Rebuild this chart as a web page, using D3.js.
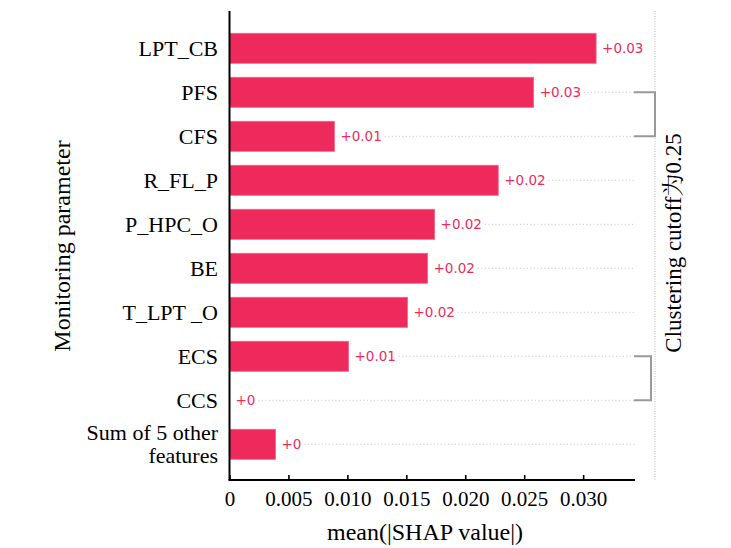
<!DOCTYPE html>
<html>
<head>
<meta charset="utf-8">
<script src="https://cdn.jsdelivr.net/npm/d3@7"></script>
<style>
  html, body { margin: 0; padding: 0; background: #fff; }
  svg { display: block; }
</style>
</head>
<body>
<div id="chart"></div>
<script>
// ---- data ----
const features = ["LPT_CB", "PFS", "CFS", "R_FL_P", "P_HPC_O", "BE", "T_LPT _O", "ECS", "CCS", "Sum of 5 other|features"];
const values = [0.0311, 0.0258, 0.0089, 0.0228, 0.0174, 0.0168, 0.0151, 0.0101, 0.0000, 0.0039];
const valueLabels = ["+0.03", "+0.03", "+0.01", "+0.02", "+0.02", "+0.02", "+0.02", "+0.01", "+0", "+0"];
const xTicks = [0, 0.005, 0.010, 0.015, 0.020, 0.025, 0.030];
const xTickLabels = ["0", "0.005", "0.010", "0.015", "0.020", "0.025", "0.030"];
const clusterPairs = [[1, 2], [7, 8]];
const clusterDistances = [0.25, 0.20];
const clusterCutoff = 0.25;
const xTitle = "mean(|SHAP value|)";
const yTitle = "Monitoring parameter";
const rightTitle = "Clustering cutoff为0.25";

// ---- layout ----
const W = 731, H = 548;
const plotLeft = 229.5, plotRight = 635, plotTop = 11, plotBottom = 480;
const barColor = "#ee2a5d";
const serif = "'Liberation Serif', 'Noto Serif CJK SC', 'Noto Sans CJK SC', serif";
const sans = "'DejaVu Sans', sans-serif";

const svg = d3.select("#chart").append("svg").attr("width", W).attr("height", H);

const x = d3.scaleLinear().domain([0, 0.0344]).range([plotLeft, plotRight]);
const y = d3.scaleBand().domain(d3.range(features.length))
  .range([26.3, 466.3]).paddingInner(0.318).paddingOuter(0.159);
const xc = d3.scaleLinear().domain([0, clusterCutoff]).range([plotRight, 655]);

// dotted row guide lines (drawn after labels measured)
const guides = svg.append("g");

// bars
svg.append("g").selectAll("rect").data(values).join("rect")
  .attr("x", x(0))
  .attr("y", (d, i) => y(i))
  .attr("width", d => Math.max(0, x(d) - x(0)))
  .attr("height", y.bandwidth())
  .attr("fill", barColor)
  .attr("stroke", d => d > 0 ? "#f4648a" : "none")
  .attr("stroke-width", 0.8);

// value labels
const vl = svg.append("g").selectAll("text").data(values).join("text")
  .attr("x", d => x(d) + 6)
  .attr("y", (d, i) => y(i) + y.bandwidth() / 2)
  .attr("dy", "0.36em")
  .attr("font-family", sans)
  .attr("font-size", 13.5)
  .attr("fill", barColor)
  .text((d, i) => valueLabels[i]);

vl.each(function(d, i) {
  const end = x(d) + 6 + this.getComputedTextLength() + 3;
  if (end < plotRight) {
    guides.append("line")
      .attr("x1", end).attr("x2", plotRight)
      .attr("y1", y(i) + y.bandwidth() / 2).attr("y2", y(i) + y.bandwidth() / 2)
      .attr("stroke", "#c4c4c4").attr("stroke-width", 1)
      .attr("stroke-dasharray", "1,2.5");
  }
});

// cutoff dotted vertical line
svg.append("line")
  .attr("x1", xc(clusterCutoff)).attr("x2", xc(clusterCutoff))
  .attr("y1", plotTop).attr("y2", plotBottom)
  .attr("stroke", "#c4c4c4").attr("stroke-width", 1.2)
  .attr("stroke-dasharray", "1,1.5");

// cluster brackets
clusterPairs.forEach((p, k) => {
  const y1 = y(p[0]) + y.bandwidth() / 2, y2 = y(p[1]) + y.bandwidth() / 2;
  const xe = xc(clusterDistances[k]);
  svg.append("path")
    .attr("d", `M${plotRight - 1},${y1}H${xe}V${y2}H${plotRight - 1}`)
    .attr("fill", "none").attr("stroke", "#999").attr("stroke-width", 2);
});

// x axis
const xAxis = d3.axisBottom(x).tickValues(xTicks)
  .tickFormat((d, i) => xTickLabels[i])
  .tickSizeInner(-5).tickSizeOuter(0);
const gx = svg.append("g").attr("transform", `translate(0,${plotBottom})`).call(xAxis);
gx.select(".domain").attr("stroke", "#000").attr("stroke-width", 2)
  .attr("d", `M${plotLeft - 1},0H${plotRight}`);
gx.selectAll(".tick line").attr("stroke", "#000").attr("stroke-width", 1.6);
gx.selectAll(".tick text").attr("y", 26).attr("dy", 0)
  .attr("font-family", serif).attr("font-size", 21).attr("fill", "#000");

// y axis line
svg.append("line")
  .attr("x1", plotLeft).attr("x2", plotLeft)
  .attr("y1", plotTop).attr("y2", plotBottom)
  .attr("stroke", "#000").attr("stroke-width", 2);

// y labels
svg.append("g").selectAll("text").data(features).join("text")
  .attr("text-anchor", "end")
  .attr("font-family", serif)
  .attr("font-size", 22)
  .attr("fill", "#000")
  .each(function(d, i) {
    const lines = d.split("|");
    const cy = y(i) + y.bandwidth() / 2;
    const lh = 23;
    lines.forEach((t, j) => {
      d3.select(this).append("tspan")
        .attr("x", 218)
        .attr("y", cy + (j - (lines.length - 1) / 2) * lh)
        .attr("dy", "0.33em")
        .text(t);
    });
  });

// titles
svg.append("text")
  .attr("x", 425).attr("y", 540)
  .attr("text-anchor", "middle")
  .attr("font-family", serif).attr("font-size", 24).attr("fill", "#000")
  .text(xTitle);

svg.append("text")
  .attr("transform", `translate(70,246) rotate(-90)`)
  .attr("text-anchor", "middle")
  .attr("font-family", serif).attr("font-size", 24).attr("fill", "#000")
  .text(yTitle);

svg.append("text")
  .attr("transform", `translate(681,243) rotate(-90)`)
  .attr("text-anchor", "middle")
  .attr("font-family", serif).attr("font-size", 23).attr("fill", "#000")
  .text(rightTitle);
</script>
</body>
</html>
